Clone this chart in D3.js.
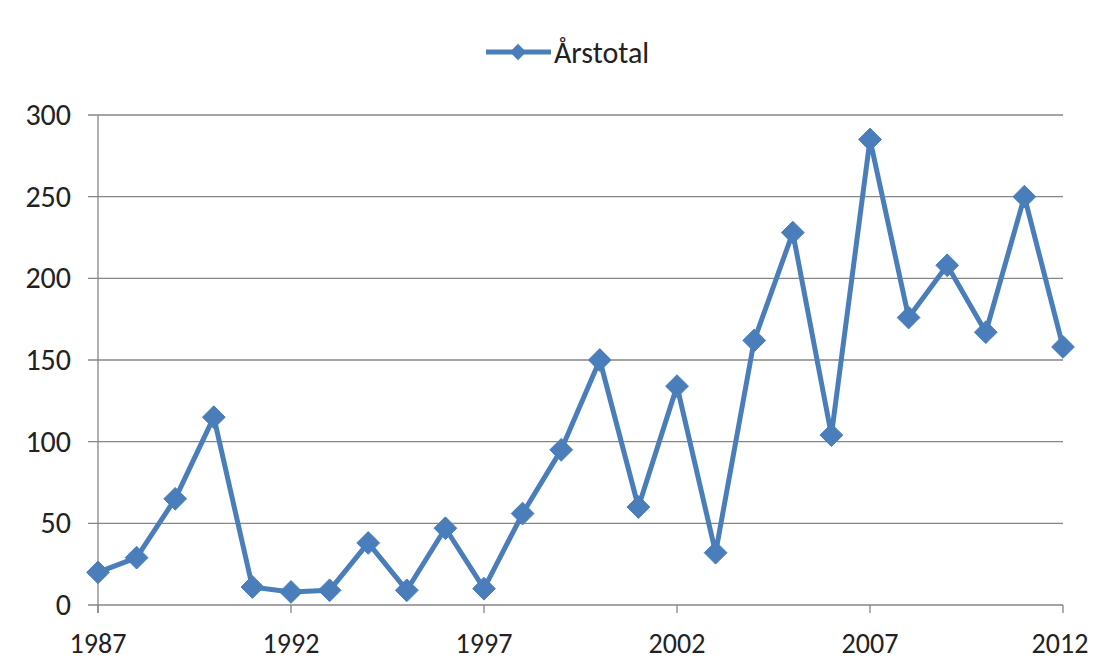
<!DOCTYPE html>
<html><head><meta charset="utf-8">
<script src="https://cdn.jsdelivr.net/npm/d3@7"></script>
<style>body{margin:0;background:#fff}svg{display:block}text{font-family:Carlito,Calibri,Lato,sans-serif;fill:#222}</style>
</head><body>
<svg id="c" width="1097" height="662"></svg>
<script>
const years = [1987,1988,1989,1990,1991,1992,1993,1994,1995,1996,1997,1998,1999,2000,2001,2002,2003,2004,2005,2006,2007,2008,2009,2010,2011,2012];
const values = [20,29,65,115,11,8,9,38,9,47,10,56,95,150,60,134,32,162,228,104,285,176,208,167,250,158];
const xTicks = [1987,1992,1997,2002,2007,2012];
const yTicks = [0,50,100,150,200,250,300];
const seriesName = "Årstotal";

const svg = d3.select("#c");
const L=98,R=1063,T=115,B=605;
const x = d3.scaleLinear().domain([1987,2012]).range([L,R]);
const y = d3.scaleLinear().domain([0,300]).range([B,T]);
const blue="#4a7ebb";

// gridlines
svg.append("g").selectAll("line").data(yTicks).join("line")
  .attr("x1",L-10).attr("x2",R).attr("y1",d=>y(d)).attr("y2",d=>y(d))
  .attr("stroke","#868686").attr("stroke-width",1.3);
svg.append("g").selectAll("text").data(yTicks).join("text")
  .attr("x",71).attr("y",d=>y(d)+10).attr("text-anchor","end")
  .attr("font-size",30).text(d=>d);
// y axis line
svg.append("line").attr("x1",L).attr("x2",L).attr("y1",T).attr("y2",B+8).attr("stroke","#868686").attr("stroke-width",1.3);
// x ticks
svg.append("g").selectAll("line").data(xTicks).join("line")
  .attr("x1",d=>x(d)).attr("x2",d=>x(d)).attr("y1",B).attr("y2",B+8)
  .attr("stroke","#868686").attr("stroke-width",1.3);
svg.append("g").selectAll("text").data(xTicks).join("text")
  .attr("x",d=>Math.min(x(d),1060)).attr("y",653).attr("text-anchor","middle")
  .attr("font-size",28).text(d=>d);

const data = years.map((yr,i)=>({yr,v:values[i]}));
svg.append("path").datum(data)
  .attr("d",d3.line().x(d=>x(d.yr)).y(d=>y(d.v)))
  .attr("fill","none").attr("stroke",blue).attr("stroke-width",5).attr("stroke-linejoin","round");
const dia = d3.symbol().type(d3.symbolDiamond2).size(330);
svg.append("g").selectAll("path").data(data).join("path")
  .attr("transform",d=>`translate(${x(d.yr)},${y(d.v)})`)
  .attr("d",dia).attr("fill",blue).attr("stroke",blue).attr("stroke-width",1);

// legend
svg.append("line").attr("x1",486).attr("x2",551).attr("y1",52).attr("y2",52).attr("stroke",blue).attr("stroke-width",5);
svg.append("path").attr("transform","translate(518,52)").attr("d",d3.symbol().type(d3.symbolDiamond2).size(170)).attr("fill",blue);
svg.append("text").attr("x",554).attr("y",63).attr("font-size",30).text(seriesName);
</script>
</body></html>
